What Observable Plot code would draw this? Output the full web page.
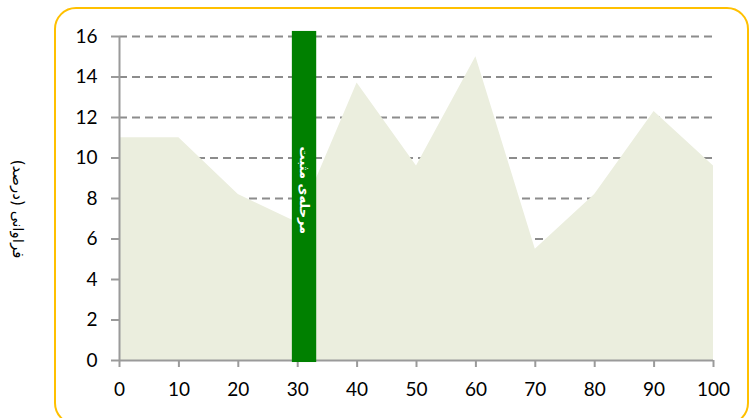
<!DOCTYPE html>
<html>
<head>
<meta charset="utf-8">
<script src="https://cdn.jsdelivr.net/npm/d3@7"></script>
<script src="https://cdn.jsdelivr.net/npm/@observablehq/plot@0.6"></script>
<style>
  html, body { margin: 0; padding: 0; background: #fff; }
  #wrap { position: relative; width: 750px; height: 418px; overflow: hidden; }
  #frame { position: absolute; left: 54px; top: 7px; width: 691px; height: 414px;
           border: 2px solid #FFC000; border-radius: 22px; box-sizing: content-box; }
  #ytitle { position: absolute; left: 18px; top: 209px; transform: translate(-50%, -50%) rotate(90deg);
            font-family: "DejaVu Sans", sans-serif; font-size: 15px; white-space: nowrap; color: #000; }
  #chart { position: absolute; left: 0; top: 0; }
</style>
</head>
<body>
<div id="wrap">
  <div id="frame"></div>
  <div id="chart"></div>
  <div id="ytitle" dir="rtl">فراوانی (درصد)</div>
</div>
<script>
const xs = [0, 10, 20, 30, 40, 50, 60, 70, 80, 90, 100];
const freq = [11, 11, 8.2, 6.8, 13.7, 9.6, 15, 5.5, 8.2, 12.3, 9.6];
const xTicks = [0, 10, 20, 30, 40, 50, 60, 70, 80, 90, 100];
const yTicks = [0, 2, 4, 6, 8, 10, 12, 14, 16];
const gridTicks = [2, 4, 6, 8, 10, 12, 14, 16];
const bandStart = [29.1];
const bandEnd = [33.2];
const bandLow = [-0.1];
const bandHigh = [16.25];
const bandLabel = ["مرحله‌ی مثبت"];

const areaData = xs.map((x, i) => ({x, y: freq[i]}));
const band = bandStart.map((s, i) => ({x1: s, x2: bandEnd[i], y1: bandLow[i], y2: bandHigh[i], label: bandLabel[i]}));

const chart = Plot.plot({
  width: 750,
  height: 418,
  marginLeft: 119,
  marginRight: 37,
  marginTop: 36,
  marginBottom: 58,
  style: {fontFamily: "Lato, sans-serif", fontSize: "19px", color: "#000", background: "transparent", overflow: "visible"},
  x: {domain: [0, 100]},
  y: {domain: [0, 16]},
  marks: [
    Plot.ruleY(gridTicks, {stroke: "#8c8c8c", strokeWidth: 2, strokeDasharray: "8,5"}),
    Plot.areaY(areaData, {x: "x", y: "y", fill: "#EBEEDE"}),
    Plot.ruleX([0], {y1: 0, y2: 16, stroke: "#9a9a9a", strokeWidth: 2}),
    Plot.ruleY([0], {x1: 0, x2: 100, stroke: "#9a9a9a", strokeWidth: 2}),
    Plot.axisY(yTicks, {tickSize: 8, tickPadding: 14, stroke: "#9a9a9a", strokeWidth: 2, label: null, fill: "#000", fontSize: 19}),
    Plot.axisX(xTicks, {tickSize: 7, tickPadding: 15, stroke: "#9a9a9a", strokeWidth: 2, label: null, fill: "#000", fontSize: 19}),
    Plot.rect(band, {x1: "x1", x2: "x2", y1: "y1", y2: "y2", fill: "#008000", clip: false}),
    Plot.text(band, {x: d => (d.x1 + d.x2) / 2, y: 8.4, text: "label", rotate: 90, fill: "#fff",
      fontWeight: "bold", fontSize: 13, fontFamily: "DejaVu Sans, sans-serif"})
  ]
});
document.getElementById("chart").appendChild(chart);
</script>
</body>
</html>
